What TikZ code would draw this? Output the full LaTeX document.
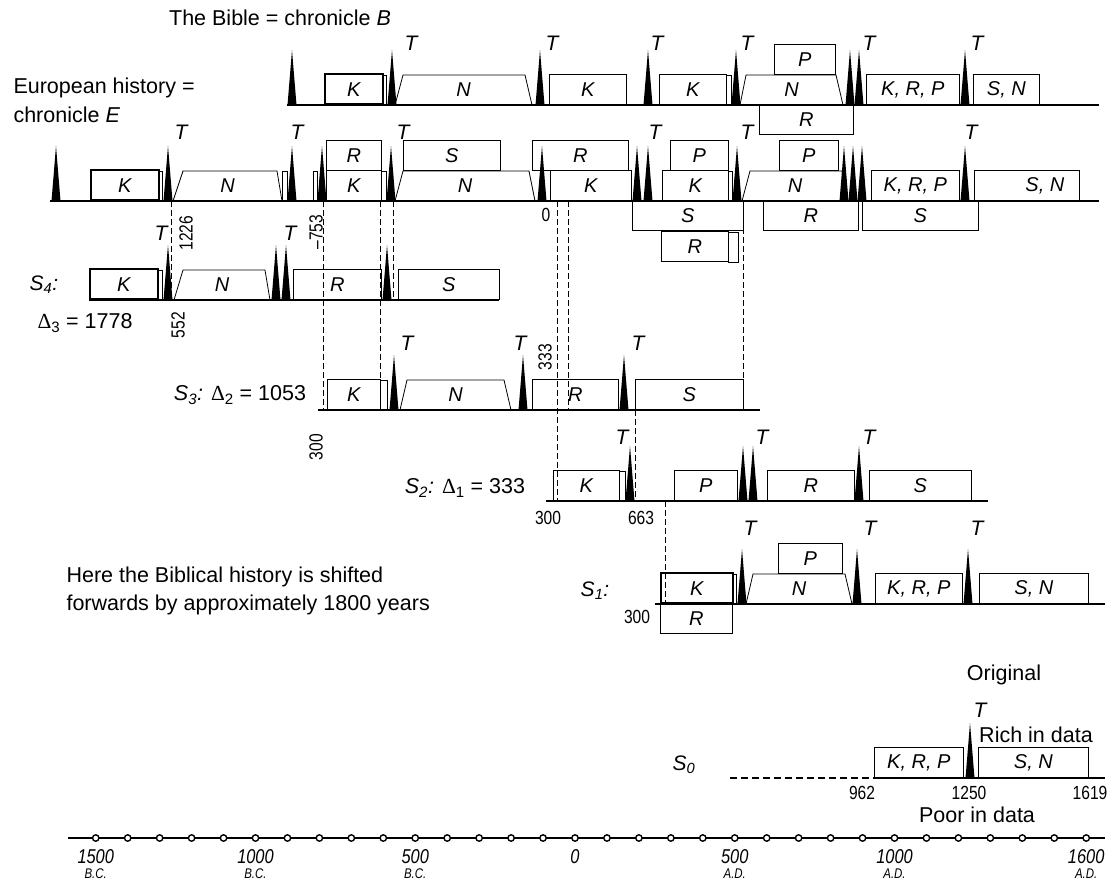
\documentclass[tikz,border=0pt]{standalone}
\usepackage{fontspec}
\setmainfont{Liberation Sans}
\newfontfamily\narrowfont{Liberation Sans}[FakeStretch=0.82]
\newfontfamily\grkfont{Liberation Serif}
\usetikzlibrary{calc}

\tikzset{
	era/.style={draw, line width=0.8pt, inner sep=0pt, anchor=south west,
		font=\fontsize{20}{24}\selectfont\itshape},
	bold era/.style={era, line width=1.6pt},
	sliver/.style={line width=0.8pt},
	baseln/.style={line width=2pt},
	guide/.style={line width=0.9pt, dash pattern=on 6pt off 3pt},
	tlab/.style={font=\fontsize{21}{25}\selectfont\itshape},
	txt/.style={font=\fontsize{21.5}{26}\selectfont},
	num/.style={font=\fontsize{19}{22}\selectfont\narrowfont},
	yearlab/.style={font=\fontsize{20}{22}\selectfont\narrowfont\itshape},
	erasub/.style={font=\fontsize{14}{16}\selectfont\narrowfont\itshape}
}

% one epoch box: [style] name, left, right, lower edge, label
\newcommand{\era}[6][era]{
	\node[#1, minimum width={(#4-#3)*1pt}, minimum height=30pt] (#2) at (#3,#5) {#6};
}
% trapezoid epoch N: name, lower left, upper left, upper right, lower right, lower edge
\newcommand{\trap}[6]{
	\draw[line width=0.8pt] (#2,#6) -- (#3,#6-30) -- (#4,#6-30) -- (#5,#6);
	\node[font=\fontsize{20}{24}\selectfont\itshape] (#1) at ({(#2+#5)/2},#6-15) {N};
}
% thin double edge next to a box
\newcommand{\sliver}[3]{
	\draw[sliver] (#1,#3) rectangle (#2,#3-30);
}
% black turning points on a base line
\newcommand{\spikes}[2]{
	\foreach \x in {#2} {
		\fill (\x-4.5,#1) -- (\x,#1-55) -- (\x+4.5,#1) -- cycle;
	}
}
% T marks over a row
\newcommand{\tmarks}[3]{
	\foreach \x [count=\i] in {#3} {
		\node[tlab] (#1t\i) at (\x,#2) {T};
	}
}
\newcommand{\dlt}[1]{{\grkfont Δ}\textsubscript{#1}}

\begin{document}
\begin{tikzpicture}[x=1pt, y=-1pt]
\useasboundingbox (0,0) rectangle (1113,884);

% chronicle B
\node[txt] (titleB) at (280,18) {The Bible = chronicle \textit{B}};
\era[bold era]{bK1}{324}{382}{105}{K}
\sliver{382}{386}{105}
\trap{bN1}{395}{403}{525}{532}{105}
\era{bK2}{549}{626}{105}{K}
\era{bK3}{659}{726}{105}{K}
\sliver{726}{731}{105}
\trap{bN2}{740}{746}{836}{843}{105}
\era{bP}{774}{835}{75}{P}
\era{bR}{759}{853}{135}{R}
\era{bKRP}{866}{959}{105}{K, R, P}
\era{bSN}{973}{1039}{105}{S, N}
\draw[baseln] (287,105) -- (1099,105);
\spikes{105}{292,392,540,648,736,850,859,965}
\tmarks{b}{43}{411,552,657,747,869,977}

% chronicle E
\node[txt, anchor=west] (titleE1) at (10,88) {European history =};
\node[txt, anchor=west] (titleE2) at (10,115) {chronicle \textit{E}};
\era[bold era]{eK1}{90}{158}{201}{K}
\sliver{158}{162}{201}
\trap{eN1}{173}{183}{277}{282}{201}
\sliver{282}{287}{201}
\sliver{313}{317}{201}
\era{eK2}{326}{381}{201}{K}
\sliver{381}{386}{201}
\era{eR1}{326}{381}{171}{R}
\trap{eN2}{395}{403}{529}{535}{201}
\era{eS1}{403}{500}{171}{S}
\era{eR2}{532}{628}{171}{R}
\era{eK3}{550}{631}{201}{K}
\era{eK4}{662}{728}{201}{K}
\sliver{728}{732}{201}
\era{eP1}{670}{728}{171}{P}
\trap{eN3}{742}{750}{842}{848}{201}
\era{eP2}{779}{838}{171}{P}
\era{eKRP}{871}{959}{201}{K, R, P}
\era{eSN}{974}{1079}{201}{\hspace*{36pt}S, N}
\era{eS2}{632}{743}{231}{S}
\era{eR3}{661}{728}{262}{R}
\sliver{728}{738}{262}
\era{eR4}{763}{858}{231}{R}
\era{eS3}{862}{978}{231}{S}
\draw[baseln] (50,201) -- (1099,201);
\spikes{201}{56,168,292,322,391,542,637,648,737,844,853,862,965}
\tmarks{e}{132}{181,297,403,655,747,971}
\node[num] (zero) at (546,215) {0};

% shift guides
\foreach \x/\ya/\yb in {171/201/300, 323/201/410, 380/201/410, 393/201/300,
	557/201/501, 568/201/410, 743/201/410, 635/410/501, 665/501/604}
	\draw[guide] (\x,\ya) -- (\x,\yb);

% S4
\node[tlab] (s4name) at (44,285) {S\textsubscript{4}:};
\node[txt, anchor=west] (s4shift) at (34,323) {\dlt{3} = 1778};
\era[bold era]{s4K}{89}{157}{300}{K}
\sliver{157}{162}{300}
\trap{s4N}{174}{183}{265}{270}{300}
\era{s4R}{293}{381}{300}{R}
\era{s4S}{398}{499}{300}{S}
\draw[baseln] (89,300) -- (499,300);
\spikes{300}{168,276,286,387}
\tmarks{sf}{233}{161,290}
\node[num, rotate=90] (n1226) at (186,233) {1226};
\node[num, rotate=90] (n753) at (316,232) {–753};
\node[num, rotate=90] (n552) at (178,325) {552};

% S3
\node[txt] (s3name) at (240,395) {\textit{S}\textsubscript{\textit{3}}\textit{:} \dlt{2} = 1053};
\era{s3K}{327}{380}{410}{K}
\sliver{380}{387}{410}
\trap{s3N}{400}{407}{504}{511}{410}
\era{s3R}{532}{618}{410}{R}
\era{s3S}{635}{743}{410}{S}
\draw[baseln] (318,410) -- (760,410);
\spikes{410}{394,523,624}
\tmarks{st}{343}{407,520,638}
\node[num, rotate=90] (n333) at (545,357) {333};
\node[num, rotate=90] (n300a) at (316,447) {300};

% S2
\node[txt] (s2name) at (465,488) {\textit{S}\textsubscript{\textit{2}}\textit{:} \dlt{1} = 333};
\era{s2K}{553}{619}{501}{K}
\sliver{619}{625}{501}
\era{s2P}{674}{737}{501}{P}
\era{s2R}{767}{854}{501}{R}
\era{s2S}{869}{971}{501}{S}
\draw[baseln] (546,501) -- (988,501);
\spikes{501}{630,743,753,859}
\tmarks{ss}{437}{622,762,869}
\node[num] (n300b) at (548,518) {300};
\node[num] (n663) at (641,518) {663};

% S1
\node[tlab] (s1name) at (595,591) {S\textsubscript{1}:};
\node[num] (n300c) at (637,617) {300};
\era[bold era]{s1K}{660}{732}{604}{K}
\sliver{732}{736}{604}
\era{s1R}{660}{732}{634}{R}
\trap{s1N}{746}{753}{845}{852}{604}
\era{s1P}{778}{842}{574}{P}
\era{s1KRP}{875}{962}{604}{K, R, P}
\era{s1SN}{979}{1088}{604}{S, N}
\draw[baseln] (655,604) -- (1105,604);
\spikes{604}{742,857,968}
\tmarks{so}{528}{750,870,977}
\node[txt, anchor=west] (shift1) at (63,577) {Here the Biblical history is shifted};
\node[txt, anchor=west] (shift2) at (63,605) {forwards by approximately 1800 years};

% S0, the original
\node[tlab] (s0name) at (684,765) {S\textsubscript{0}};
\node[txt] (orig) at (1004,675) {Original};
\node[txt] (rich) at (1036,735) {Rich in data};
\era{s0KRP}{874}{963}{778}{K, R, P}
\era{s0SN}{978}{1088}{778}{S, N}
\draw[baseln, dash pattern=on 7pt off 4pt] (730,778) -- (873,778);
\draw[baseln] (873,778) -- (1105,778);
\spikes{778}{970}
\node[tlab] (s0t1) at (980,710) {T};
\node[num] (n962) at (862,793) {962};
\node[num] (n1250) at (969,793) {1250};
\node[num] (n1619) at (1090,793) {1619};
\node[txt] (poor) at (977,815) {Poor in data};

% time axis
\draw[line width=1.8pt] (68,838) -- (1105,838);
\foreach \yr in {-1500,-1400,...,1600}
	\draw[line width=1.4pt, fill=white] ({575+0.3195*\yr},838) circle (3.2);
\foreach \yr/\lab/\sfx [count=\i] in {-1500/1500/B.C., -1000/1000/B.C., -500/500/B.C.,
	0/0/, 500/500/A.D., 1000/1000/A.D., 1600/1600/A.D.} {
	\node[yearlab] (yr\i) at ({575+0.3195*\yr},857) {\lab};
	\node[erasub] (sfx\i) at ({575+0.3195*\yr},874) {\sfx};
}
\end{tikzpicture}
\end{document}
